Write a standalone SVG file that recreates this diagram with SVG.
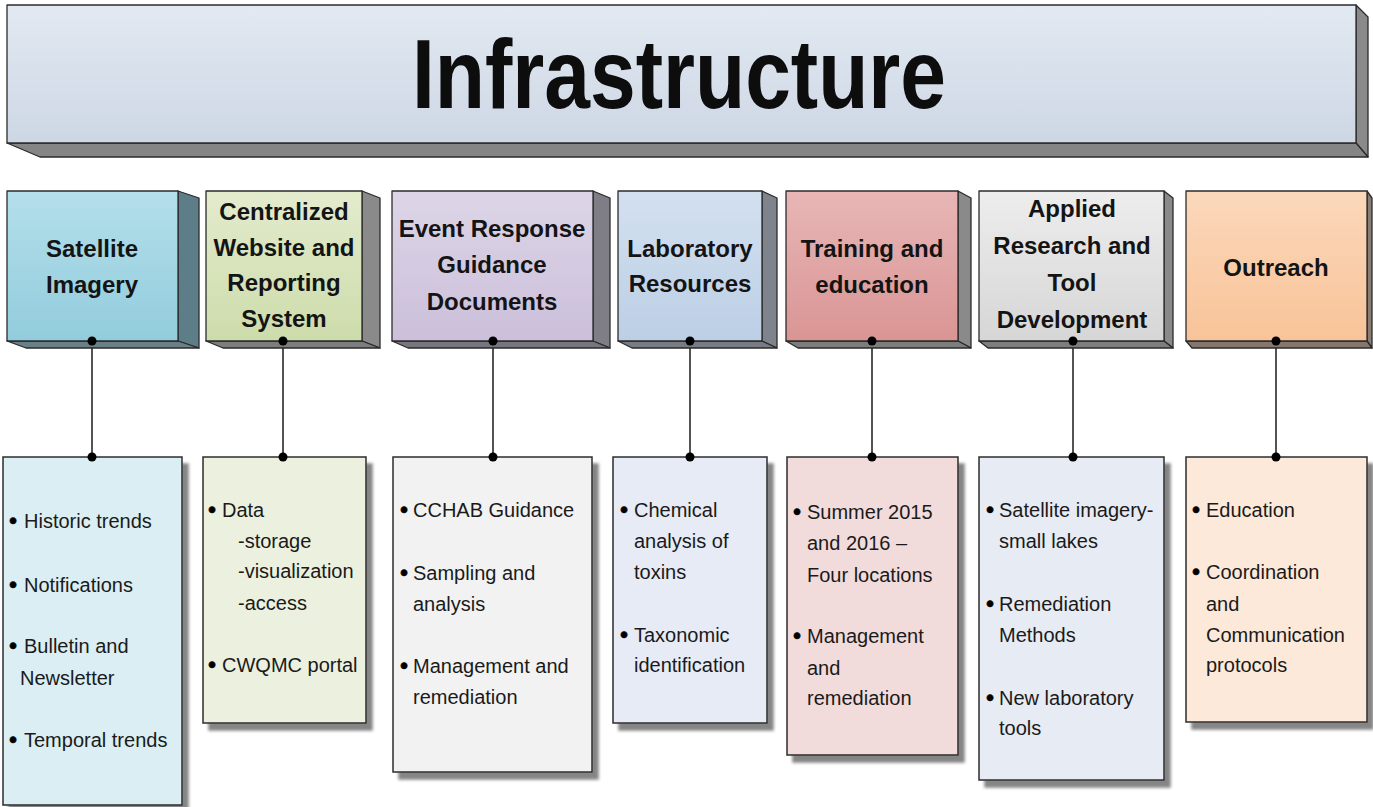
<svg xmlns="http://www.w3.org/2000/svg" width="1373" height="807" viewBox="0 0 1373 807">
<style>
.edge{stroke:#2b2b2b;stroke-width:1.3;stroke-linejoin:round}
.side{fill:#8a8a8a}
.bot{fill:#7d7d7d}
.title{font-family:"Liberation Sans",Arial,sans-serif;font-weight:bold;font-size:24px;fill:#141414;text-anchor:middle}
.item{font-family:"Liberation Sans",Arial,sans-serif;font-size:20px;fill:#1a1a1a}
.bul{font-family:"Liberation Sans",Arial,sans-serif;font-size:23px;fill:#000;stroke:#000;stroke-width:0.6}
.card{stroke:#2b2b2b;stroke-width:1.5;filter:url(#sh)}
.conn{stroke:#1a1a1a;stroke-width:1.5;fill:none}
.dot{fill:#000}
</style>
<defs>
<linearGradient id="gBan" x1="0" y1="0" x2="0" y2="1"><stop offset="0" stop-color="#e2e9f2"/><stop offset="1" stop-color="#cdd7e4"/></linearGradient>
<linearGradient id="g1" x1="0" y1="0" x2="0" y2="1"><stop offset="0" stop-color="#b4dfeb"/><stop offset="1" stop-color="#92ccdc"/></linearGradient>
<linearGradient id="g2" x1="0" y1="0" x2="0" y2="1"><stop offset="0" stop-color="#e3ebcd"/><stop offset="1" stop-color="#cddcab"/></linearGradient>
<linearGradient id="g3" x1="0" y1="0" x2="0" y2="1"><stop offset="0" stop-color="#ddd5e7"/><stop offset="1" stop-color="#cbbfda"/></linearGradient>
<linearGradient id="g4" x1="0" y1="0" x2="0" y2="1"><stop offset="0" stop-color="#d3e0f0"/><stop offset="1" stop-color="#bccfe5"/></linearGradient>
<linearGradient id="g5" x1="0" y1="0" x2="0" y2="1"><stop offset="0" stop-color="#e8b6b6"/><stop offset="1" stop-color="#d99594"/></linearGradient>
<linearGradient id="g6" x1="0" y1="0" x2="0" y2="1"><stop offset="0" stop-color="#ededed"/><stop offset="1" stop-color="#d6d6d6"/></linearGradient>
<linearGradient id="g7" x1="0" y1="0" x2="0" y2="1"><stop offset="0" stop-color="#fbd8bb"/><stop offset="1" stop-color="#f8c398"/></linearGradient>
<filter id="sh" x="-10%" y="-10%" width="130%" height="130%"><feDropShadow dx="6" dy="7" stdDeviation="1.5" flood-color="#6f6f6f" flood-opacity="0.85"/></filter>
</defs>

<g id="banner">
<polygon class="edge" fill="#8a8a8a" points="1356,5 1368,17 1368,157 1356,143"/>
<polygon class="edge" fill="#858585" points="7,143 1356,143 1368,157 40,157"/>
<rect class="edge" x="7" y="5" width="1349" height="138" fill="url(#gBan)"/>
<text x="679" y="108" font-family="'Liberation Sans',Arial,sans-serif" font-weight="bold" font-size="99" fill="#0d0d0d" text-anchor="middle" textLength="534" lengthAdjust="spacingAndGlyphs">Infrastructure</text>
</g>

<g id="connectors">
<line class="conn" x1="92" y1="341" x2="92" y2="457"/>
<line class="conn" x1="283" y1="341" x2="283" y2="457"/>
<line class="conn" x1="493" y1="341" x2="493" y2="457"/>
<line class="conn" x1="690" y1="341" x2="690" y2="457"/>
<line class="conn" x1="872" y1="341" x2="872" y2="457"/>
<line class="conn" x1="1073" y1="341" x2="1073" y2="457"/>
<line class="conn" x1="1276" y1="341" x2="1276" y2="457"/>
</g>

<g id="top-satellite">
<polygon class="edge" fill="#5d7e89" points="178,191 199,198 199,348 178,341"/>
<polygon class="edge" fill="#6a7f86" points="7,341 178,341 199,348 26,348"/>
<rect class="edge" x="7" y="191" width="171" height="150" fill="url(#g1)"/>
<text class="title" x="92" y="257">Satellite</text>
<text class="title" x="92" y="293">Imagery</text>
</g>
<g id="top-centralized">
<polygon class="edge side" points="362,191 380,198 380,348 362,341"/>
<polygon class="edge bot" points="206,341 362,341 380,348 223,348"/>
<rect class="edge" x="206" y="191" width="156" height="150" fill="url(#g2)"/>
<text class="title" x="284" y="220">Centralized</text>
<text class="title" x="284" y="256">Website and</text>
<text class="title" x="284" y="291">Reporting</text>
<text class="title" x="284" y="327">System</text>
</g>
<g id="top-event">
<polygon class="edge" fill="#7f7d86" points="593,191 610,198 610,348 593,341"/>
<polygon class="edge" fill="#77757d" points="392,341 593,341 610,348 408,348"/>
<rect class="edge" x="392" y="191" width="201" height="150" fill="url(#g3)"/>
<text class="title" x="492" y="237">Event Response</text>
<text class="title" x="492" y="273">Guidance</text>
<text class="title" x="492" y="310">Documents</text>
</g>
<g id="top-laboratory">
<polygon class="edge" fill="#7e838c" points="762,191 777,198 777,348 762,341"/>
<polygon class="edge" fill="#777b83" points="618,341 762,341 777,348 632,348"/>
<rect class="edge" x="618" y="191" width="144" height="150" fill="url(#g4)"/>
<text class="title" x="690" y="257">Laboratory</text>
<text class="title" x="690" y="292">Resources</text>
</g>
<g id="top-training">
<polygon class="edge side" points="958,191 971,198 971,348 958,341"/>
<polygon class="edge bot" points="786,341 958,341 971,348 798,348"/>
<rect class="edge" x="786" y="191" width="172" height="150" fill="url(#g5)"/>
<text class="title" x="872" y="257">Training and</text>
<text class="title" x="872" y="293">education</text>
</g>
<g id="top-applied">
<polygon class="edge side" points="1164,191 1173,198 1173,348 1164,341"/>
<polygon class="edge bot" points="979,341 1164,341 1173,348 988,348"/>
<rect class="edge" x="979" y="191" width="185" height="150" fill="url(#g6)"/>
<text class="title" x="1072" y="217">Applied</text>
<text class="title" x="1072" y="254">Research and</text>
<text class="title" x="1072" y="291">Tool</text>
<text class="title" x="1072" y="328">Development</text>
</g>
<g id="top-outreach">
<polygon class="edge" fill="#8a7d74" points="1367,191 1372,198 1372,348 1367,341"/>
<polygon class="edge" fill="#85776e" points="1186,341 1367,341 1372,348 1192,348"/>
<rect class="edge" x="1186" y="191" width="181" height="150" fill="url(#g7)"/>
<text class="title" x="1276" y="276">Outreach</text>
</g>

<g id="list-satellite">
<rect class="card" x="3" y="457" width="179" height="348" fill="#daeef3"/>
<text class="bul" x="9" y="529">•</text><text class="item" x="24" y="528">Historic trends</text>
<text class="bul" x="9" y="593">•</text><text class="item" x="24" y="592">Notifications</text>
<text class="bul" x="9" y="654">•</text><text class="item" x="24" y="653">Bulletin and</text>
<text class="item" x="20" y="685">Newsletter</text>
<text class="bul" x="9" y="748">•</text><text class="item" x="24" y="747">Temporal trends</text>
</g>
<g id="list-centralized">
<rect class="card" x="203" y="457" width="163" height="266" fill="#ebf1de"/>
<text class="bul" x="208" y="518">•</text><text class="item" x="222" y="517">Data</text>
<text class="item" x="238" y="548">-storage</text>
<text class="item" x="238" y="578">-visualization</text>
<text class="item" x="238" y="610">-access</text>
<text class="bul" x="208" y="673">•</text><text class="item" x="222" y="672">CWQMC portal</text>
</g>
<g id="list-event">
<rect class="card" x="393" y="457" width="199" height="315" fill="#f2f2f2"/>
<text class="bul" x="400" y="518">•</text><text class="item" x="413" y="517">CCHAB Guidance</text>
<text class="bul" x="400" y="581">•</text><text class="item" x="413" y="580">Sampling and</text>
<text class="item" x="413" y="611">analysis</text>
<text class="bul" x="400" y="674">•</text><text class="item" x="413" y="673">Management and</text>
<text class="item" x="413" y="704">remediation</text>
</g>
<g id="list-laboratory">
<rect class="card" x="613" y="457" width="154" height="266" fill="#e7ebf5"/>
<text class="bul" x="620" y="518">•</text><text class="item" x="634" y="517">Chemical</text>
<text class="item" x="634" y="548">analysis of</text>
<text class="item" x="634" y="579">toxins</text>
<text class="bul" x="620" y="643">•</text><text class="item" x="634" y="642">Taxonomic</text>
<text class="item" x="634" y="672">identification</text>
</g>
<g id="list-training">
<rect class="card" x="787" y="457" width="171" height="298" fill="#f2dcdb"/>
<text class="bul" x="793" y="520">•</text><text class="item" x="807" y="519">Summer 2015</text>
<text class="item" x="807" y="550">and 2016 –</text>
<text class="item" x="807" y="582">Four locations</text>
<text class="bul" x="793" y="644">•</text><text class="item" x="807" y="643">Management</text>
<text class="item" x="807" y="675">and</text>
<text class="item" x="807" y="705">remediation</text>
</g>
<g id="list-applied">
<rect class="card" x="979" y="457" width="185" height="323" fill="#e7ebf3"/>
<text class="bul" x="986" y="518">•</text><text class="item" x="999" y="517">Satellite imagery-</text>
<text class="item" x="999" y="548">small lakes</text>
<text class="bul" x="986" y="612">•</text><text class="item" x="999" y="611">Remediation</text>
<text class="item" x="999" y="642">Methods</text>
<text class="bul" x="986" y="706">•</text><text class="item" x="999" y="705">New laboratory</text>
<text class="item" x="999" y="735">tools</text>
</g>
<g id="list-outreach">
<rect class="card" x="1186" y="457" width="181" height="265" fill="#fde9d9"/>
<text class="bul" x="1192" y="518">•</text><text class="item" x="1206" y="517">Education</text>
<text class="bul" x="1192" y="580">•</text><text class="item" x="1206" y="579">Coordination</text>
<text class="item" x="1206" y="611">and</text>
<text class="item" x="1206" y="642">Communication</text>
<text class="item" x="1206" y="672">protocols</text>
</g>

<g id="dots">
<circle class="dot" cx="92" cy="341" r="4.5"/><circle class="dot" cx="92" cy="457" r="4.5"/>
<circle class="dot" cx="283" cy="341" r="4.5"/><circle class="dot" cx="283" cy="457" r="4.5"/>
<circle class="dot" cx="493" cy="341" r="4.5"/><circle class="dot" cx="493" cy="457" r="4.5"/>
<circle class="dot" cx="690" cy="341" r="4.5"/><circle class="dot" cx="690" cy="457" r="4.5"/>
<circle class="dot" cx="872" cy="341" r="4.5"/><circle class="dot" cx="872" cy="457" r="4.5"/>
<circle class="dot" cx="1073" cy="341" r="4.5"/><circle class="dot" cx="1073" cy="457" r="4.5"/>
<circle class="dot" cx="1276" cy="341" r="4.5"/><circle class="dot" cx="1276" cy="457" r="4.5"/>
</g>
</svg>
